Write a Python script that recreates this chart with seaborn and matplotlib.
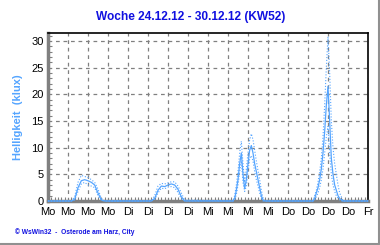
import matplotlib
matplotlib.use("Agg")
import matplotlib.pyplot as plt
import seaborn as sns
import pandas as pd
from matplotlib.ticker import MultipleLocator
from matplotlib.lines import Line2D

# ---- data (hours since Monday 00:00, brightness in klux) ----
tick_labels = ["Mo", "Mo", "Mo", "Mo", "Di", "Di", "Di", "Di",
               "Mi", "Mi", "Mi", "Mi", "Do", "Do", "Do", "Do", "Fr"]

t_mo = [0, 7, 8, 9, 10, 11, 12, 13, 14, 15, 16, 17]
solid_mo = [0, 0, 0.3, 2.5, 3.8, 4.0, 3.8, 3.5, 3.0, 1.5, 0.2, 0]
max_mo = [0, 0, 0.8, 3.5, 4.8, 4.6, 4.4, 4.0, 3.5, 2.2, 0.5, 0]
min_mo = [0, 0, 0.2, 1.8, 3.2, 3.5, 3.0, 2.8, 2.5, 1.0, 0.1, 0]

t_di = [31, 32, 33, 34, 35, 36, 37, 38, 39, 40, 41]
solid_di = [0, 0.5, 2.0, 2.8, 2.7, 3.0, 3.2, 3.0, 2.2, 0.8, 0]
max_di = [0, 1.0, 2.8, 3.3, 3.2, 3.4, 3.6, 3.6, 2.8, 1.5, 0.2]
min_di = [0, 0.3, 1.5, 2.4, 2.3, 2.6, 2.7, 2.5, 1.6, 0.4, 0]

t_mi = [55.5, 56, 56.5, 57, 57.5, 58, 58.5, 59, 59.5, 60, 60.5, 61,
        61.5, 62, 62.5, 63, 63.5, 64, 64.5, 65]
solid_mi = [0, 0.5, 2.0, 4.0, 7.0, 9.0, 5.0, 2.3, 4.0, 7.0, 9.5, 10.4,
            9.0, 7.0, 5.5, 4.0, 2.5, 1.0, 0.2, 0]
max_mi = [0, 1.0, 3.0, 5.5, 9.0, 11.2, 7.0, 3.5, 6.0, 9.0, 11.5, 12.6,
          11.5, 9.5, 7.5, 5.7, 4.0, 2.0, 0.6, 0]
min_mi = [0, 0.2, 1.2, 3.0, 5.5, 7.5, 3.5, 1.8, 2.8, 5.5, 8.0, 8.5,
          7.5, 5.5, 4.0, 2.8, 1.5, 0.5, 0, 0]

t_do = [79.5, 80, 80.5, 81, 81.5, 82, 82.5, 83, 83.5, 84, 84.5, 85,
        85.5, 86, 86.5, 87, 87.5, 88, 88.5, 96]
solid_do = [0, 0.5, 1.5, 2.5, 4.0, 6.0, 9.0, 13.0, 18.0, 21.5, 15.0, 8.0,
            5.0, 3.0, 2.0, 1.0, 0.5, 0.2, 0, 0]
max_do = [0, 1.0, 2.0, 3.5, 5.5, 8.0, 12.0, 18.0, 25.0, 30.8, 24.0, 15.0,
          10.0, 7.0, 5.0, 3.0, 1.5, 0.8, 0, 0]
min_do = [0, 0.2, 0.8, 1.5, 2.5, 4.0, 6.0, 9.0, 12.0, 14.0, 9.0, 5.0,
          3.0, 1.8, 1.0, 0.5, 0.2, 0, 0, 0]

hours = t_mo + t_di + t_mi + t_do
df = pd.DataFrame({
    "h": hours,
    "solid": solid_mo + solid_di + solid_mi + solid_do,
    "max": max_mo + max_di + max_mi + max_do,
    "min": min_mo + min_di + min_mi + min_do,
})

# ---- figure ----
sns.set_theme(style="white")
plt.rcParams["font.family"] = ["Liberation Sans", "DejaVu Sans"]

fig = plt.figure(figsize=(3.8, 2.45), dpi=100)
ax = fig.add_axes([48 / 380, 1 - 201 / 245, 320 / 380, 168 / 245])

line_col = "#55a5ff"
sns.lineplot(data=df, x="h", y="max", ax=ax, color=line_col, lw=0.8,
             linestyle=(0, (1, 1.6)), zorder=3)
sns.lineplot(data=df, x="h", y="min", ax=ax, color=line_col, lw=0.8,
             linestyle=(0, (1, 1.6)), zorder=3)
sns.lineplot(data=df, x="h", y="solid", ax=ax, color=line_col, lw=0.9,
             zorder=4)
for l in ax.lines:
    l.set_clip_on(False)

ax.set_xlim(0, 96)
ax.set_ylim(0, 31.5)
ax.xaxis.set_minor_locator(MultipleLocator(1))
ax.yaxis.set_major_locator(MultipleLocator(5))
ax.yaxis.set_minor_locator(MultipleLocator(1))
ax.set_xticks(range(0, 97, 6))
ax.set_xticklabels(tick_labels)

ax.grid(True, which="major", color="#808080", linestyle=(0, (3, 3)), lw=0.9)
ax.set_axisbelow(True)

ax.tick_params(axis="both", which="major", direction="in", length=0,
               labelsize=8, pad=3, labelcolor="black")
ax.tick_params(axis="x", which="minor", direction="in", length=3,
               color="#808080", width=0.8, bottom=True)
ax.tick_params(axis="y", which="minor", direction="in", length=3,
               color="#808080", width=0.8, left=True)
ax.tick_params(axis="x", which="major", pad=4)

for s in ["left", "bottom"]:
    ax.spines[s].set_color("#808080")
    ax.spines[s].set_linewidth(2.5)
for s in ["top", "right"]:
    ax.spines[s].set_color("black")
    ax.spines[s].set_linewidth(1.2)

ax.set_xlabel("")
ax.set_ylabel("Helligkeit  (klux)", color="#55a5ff", fontsize=8,
              fontweight="bold", labelpad=6)

fig.text(191 / 380, 1 - 17 / 245, "Woche 24.12.12 - 30.12.12 (KW52)",
         ha="center", va="center", color="#1010e0", fontsize=8.6,
         fontweight="bold")
fig.text(15 / 380, 1 - 232 / 245, "© WsWin32  -  Osterode am Harz, City",
         ha="left", va="center", color="#1010e0", fontsize=4.8,
         fontweight="bold")

# outer frame (right and bottom grey edge)
fig.add_artist(Line2D([378.5 / 380, 378.5 / 380], [1 / 245, 1], color="#909090",
                      lw=1.5, transform=fig.transFigure))
fig.add_artist(Line2D([0, 378.5 / 380], [1.2 / 245, 1.2 / 245], color="#909090",
                      lw=1.5, transform=fig.transFigure))

fig.savefig("out.png", dpi=100, facecolor="white")
